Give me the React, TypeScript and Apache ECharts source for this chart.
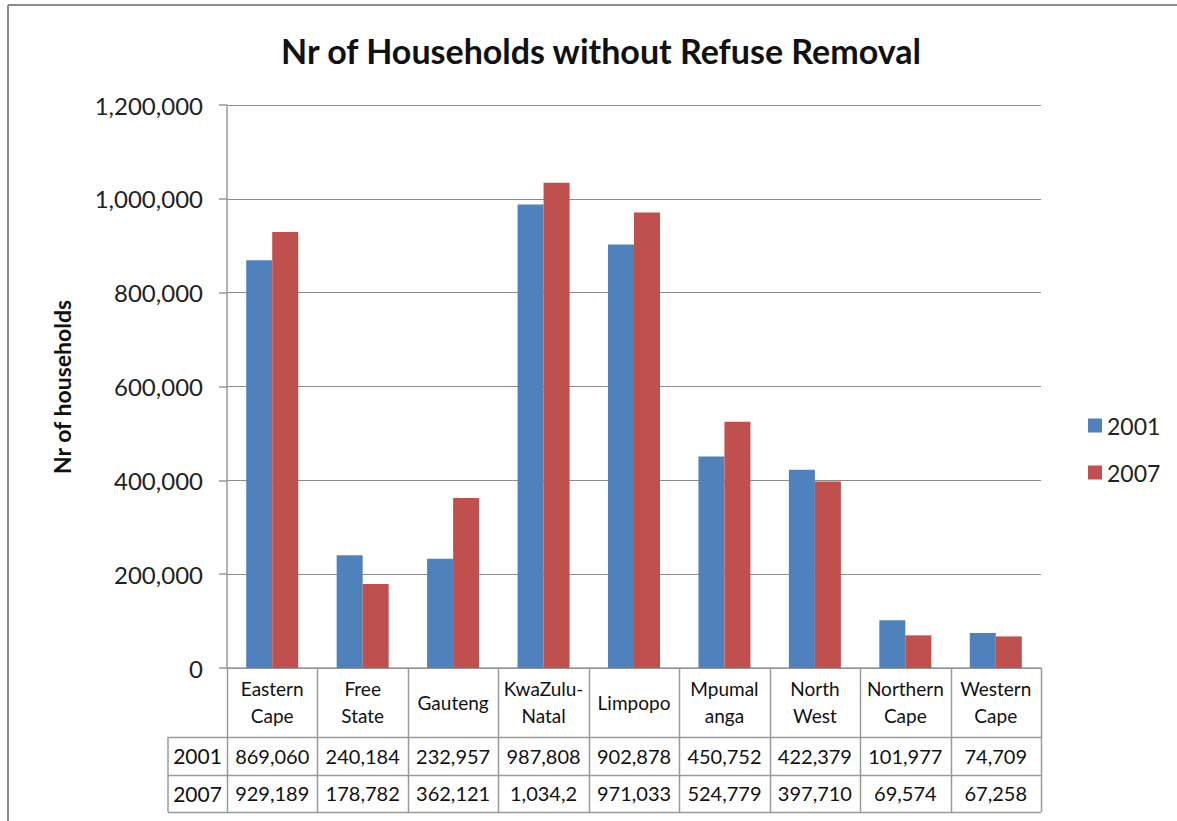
import React, { useEffect, useRef } from "react";
import * as echarts from "echarts";

const categories = [
  "Eastern\nCape",
  "Free\nState",
  "Gauteng",
  "KwaZulu-\nNatal",
  "Limpopo",
  "Mpumal\nanga",
  "North\nWest",
  "Northern\nCape",
  "Western\nCape",
];
const seriesNames = ["2001", "2007"];
const values2001 = [869060, 240184, 232957, 987808, 902878, 450752, 422379, 101977, 74709];
const values2007 = [929189, 178782, 362121, 1034200, 971033, 524779, 397710, 69574, 67258];
const yTicks = [0, 200000, 400000, 600000, 800000, 1000000, 1200000];

const COLORS = ["#4F81BD", "#C0504D"];
const FONT = "Lato, 'Open Sans', sans-serif";

const fmt = (v: number) => v.toLocaleString("en-US");

export default function App() {
  const ref = useRef<HTMLDivElement>(null);
  useEffect(() => {
    document.body.style.margin = "0";
    const chart = echarts.init(ref.current!, undefined, { renderer: "svg" });

    const gl = 227, gr = 1041, gt = 105, gb = 668;
    const W = 1177, H = 821;
    const colW = (gr - gl) / categories.length;
    const headerBottom = 737;
    const rowH = 37.5;
    const labelLeft = 168;
    const lineColor = "#9a9a9a";
    const graphics: any[] = [];
    // frame
    graphics.push({ type: "line", shape: { x1: 8, y1: 5, x2: W, y2: 5 }, style: { stroke: "#8c8c8c", lineWidth: 2 } });
    graphics.push({ type: "line", shape: { x1: 8, y1: 5, x2: 8, y2: H }, style: { stroke: "#8c8c8c", lineWidth: 2 } });
    // table vertical lines
    for (let i = 0; i <= categories.length; i++) {
      const x = Math.round(gl + i * colW) + 0.5;
      graphics.push({ type: "line", shape: { x1: x, y1: gb, x2: x, y2: headerBottom + 2 * rowH }, style: { stroke: lineColor, lineWidth: 1.5 } });
    }
    graphics.push({ type: "line", shape: { x1: labelLeft, y1: headerBottom, x2: labelLeft, y2: headerBottom + 2 * rowH }, style: { stroke: lineColor, lineWidth: 1.5 } });
    for (let r = 0; r <= 2; r++) {
      const y = Math.round(headerBottom + r * rowH) + 0.5;
      graphics.push({ type: "line", shape: { x1: labelLeft, y1: y, x2: gr, y2: y }, style: { stroke: lineColor, lineWidth: 1.5 } });
    }
    const rows = [values2001, values2007];
    rows.forEach((vals, r) => {
      const cy = headerBottom + r * rowH + rowH / 2;
      graphics.push({
        type: "text",
        x: (labelLeft + gl) / 2,
        y: cy,
        style: { text: seriesNames[r], fontSize: 21, fontFamily: FONT, fill: "#111", align: "center", verticalAlign: "middle" },
      });
      vals.forEach((v, i) => {
        let s = fmt(v);
        if (s.length > 7) s = s.slice(0, 7);
        graphics.push({
          type: "text",
          x: gl + (i + 0.5) * colW,
          y: cy,
          style: { text: s, fontSize: 20, fontFamily: FONT, fill: "#111", align: "center", verticalAlign: "middle" },
        });
      });
    });
    // y axis name
    graphics.push({
      type: "text",
      x: 62,
      y: 387,
      rotation: Math.PI / 2,
      style: { text: "Nr of households", fontSize: 23, fontWeight: "bold", fontFamily: FONT, fill: "#111", align: "center", verticalAlign: "middle" },
    });

    chart.setOption({
      animation: false,
      backgroundColor: "#fff",
      title: {
        text: "Nr of Households without Refuse Removal",
        left: 596,
        top: 28,
        textAlign: "center",
        textStyle: { fontSize: 34, fontWeight: "bold", fontFamily: FONT, color: "#111" },
      },
      legend: {
        orient: "vertical",
        left: 1083,
        top: 409,
        itemWidth: 14,
        itemHeight: 14,
        itemGap: 24,
        icon: "rect",
        textStyle: { fontSize: 23, fontFamily: FONT, color: "#222" },
        data: seriesNames,
      },
      grid: { left: gl, right: W - gr, top: gt, bottom: H - gb, containLabel: false },
      xAxis: {
        type: "category",
        data: categories,
        axisLine: { show: true, lineStyle: { color: lineColor, width: 1.5 } },
        axisTick: { show: false },
        axisLabel: {
          interval: 0,
          fontSize: 19,
          lineHeight: 27,
          fontFamily: FONT,
          color: "#111",
          margin: 34,
          verticalAlign: "middle",
        },
      },
      yAxis: {
        type: "value",
        min: 0,
        max: yTicks[yTicks.length - 1],
        interval: yTicks[1] - yTicks[0],
        axisLine: { show: true, lineStyle: { color: lineColor, width: 1.5 } },
        axisTick: { show: true, length: 8, lineStyle: { color: lineColor, width: 1.5 } },
        splitLine: { show: true, lineStyle: { color: "#8c8c8c", width: 1 } },
        axisLabel: { fontSize: 24, fontFamily: FONT, color: "#222", margin: 24, formatter: (v: number) => fmt(v) },
      },
      series: [
        { name: seriesNames[0], type: "bar", data: values2001, barWidth: 26, barGap: "0%", itemStyle: { color: COLORS[0] } },
        { name: seriesNames[1], type: "bar", data: values2007, barWidth: 26, barGap: "0%", itemStyle: { color: COLORS[1] } },
      ],
      graphic: graphics,
    });
    return () => chart.dispose();
  }, []);
  return <div ref={ref} style={{ width: 1177, height: 821 }} />;
}
